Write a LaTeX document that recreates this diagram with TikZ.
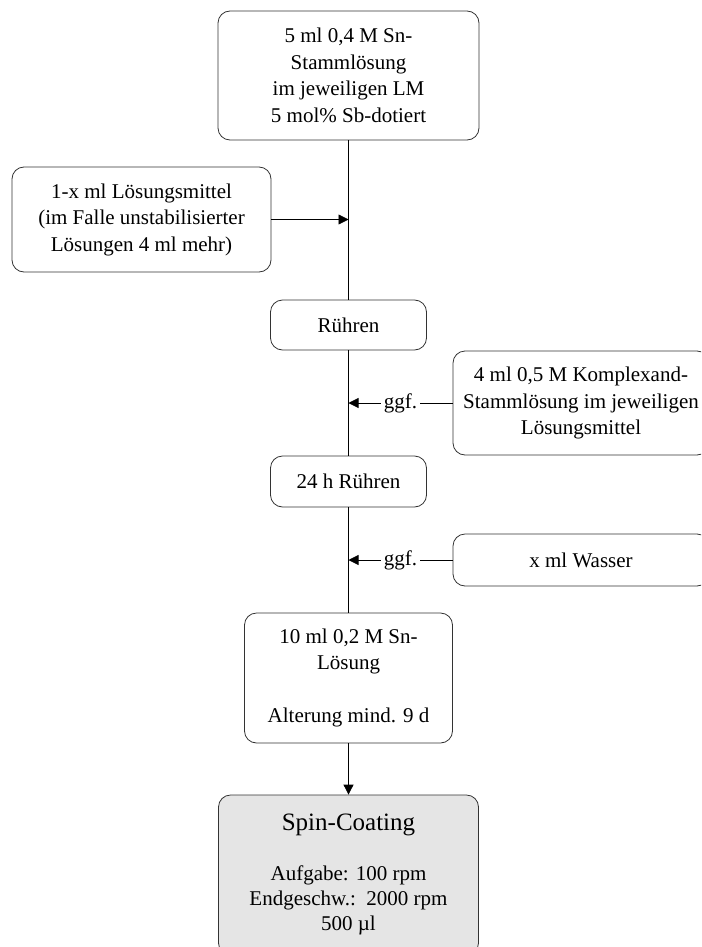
\documentclass[tikz,border=0pt]{standalone}
\usepackage{fontspec}
\setmainfont{Liberation Serif}
\usetikzlibrary{arrows.meta}
\begin{document}
\begin{tikzpicture}[x=1pt,y=-1pt,
  box/.style={draw=black!80, line width=0.8pt, rounded corners=12pt, align=center, inner sep=0pt, font=\fontsize{21}{26.5}\selectfont},
  conn/.style={line width=0.8pt, draw=black},
  arr/.style={conn, -{Triangle[length=10pt,width=10pt]}},
  lbl/.style={fill=white, inner sep=3pt, font=\fontsize{21}{26.5}\selectfont},
  txt/.style={align=center, inner sep=0pt}]
\useasboundingbox (0,0) rectangle (701,947);
\clip (0,0) rectangle (701,947);

\node[box, minimum width=261pt, minimum height=129pt] (top) at (348.5,75.5)
  {5 ml 0,4 M Sn-\\Stammlösung\\im jeweiligen LM\\5 mol\% Sb-dotiert};
\node[box, minimum width=259pt, minimum height=105pt] (left) at (141.5,219.5)
  {1-x ml Lösungsmittel\\(im Falle unstabilisierter\\Lösungen 4 ml mehr)};
\node[box, minimum width=156pt, minimum height=50pt] (ruehren) at (348.5,325) {Rühren};
\node[box, minimum width=256pt, minimum height=104pt] (k) at (581,403)
  {4 ml 0,5 M Komplexand-\\Stammlösung im jeweiligen\\Lösungsmittel};
\node[box, minimum width=156pt, minimum height=51pt] (h24) at (348.5,481.5) {24 h Rühren};
\node[box, minimum width=256pt, minimum height=52pt] (wasser) at (581,560) {x ml Wasser};
\node[box, minimum width=208pt, minimum height=130pt] (ml10) at (348.5,678)
  {10 ml 0,2 M Sn-\\Lösung\\[26.5pt]Alterung mind. 9 d};
\node[box, fill=black!10, minimum width=260pt, minimum height=160pt] (spin) at (348.5,875) {};
\node[txt, font=\fontsize{25}{30}\selectfont] (spintitle) at (348.5,825) {Spin-Coating};
\node[txt, font=\fontsize{21}{25}\selectfont] (spindet) at (348.5,900)
  {Aufgabe: 100 rpm\\Endgeschw.:\ \ 2000 rpm\\500 µl};

\draw[conn] (top.south) -- (ruehren.north);
\coordinate (j1) at (top.south |- left.east);
\draw[arr] (left.east) -- (j1);

\draw[conn] (ruehren.south) -- (h24.north);
\coordinate (j2) at (ruehren.south |- k.west);
\draw[arr] (k.west) -- node[lbl] (g1) {ggf.} (j2);

\draw[conn] (h24.south) -- (ml10.north);
\coordinate (j3) at (h24.south |- wasser.west);
\draw[arr] (wasser.west) -- node[lbl] (g2) {ggf.} (j3);

\draw[arr] (ml10.south) -- (spin.north);
\end{tikzpicture}
\end{document}
